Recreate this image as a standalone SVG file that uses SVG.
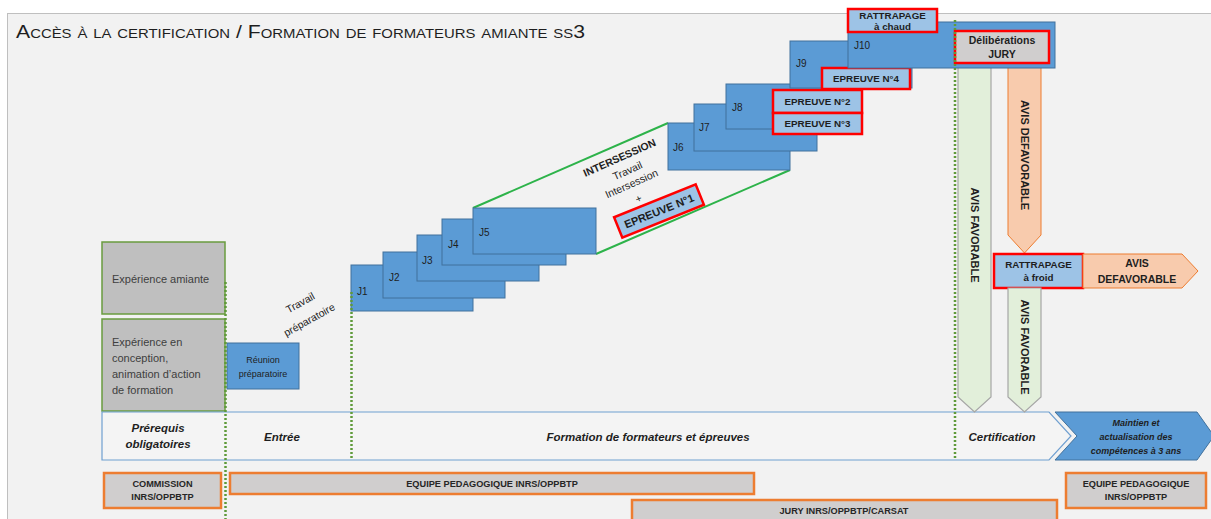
<svg xmlns="http://www.w3.org/2000/svg" width="1211" height="519" viewBox="0 0 1211 519">
<style>
text{font-family:"Liberation Sans",Arial,sans-serif;fill:#1e1e1e}
.jb{fill:#5b9bd5;stroke:#41719c;stroke-width:1}
.jl{font-size:10px}
.ep{fill:#9dc3e6;stroke:#ff0000;stroke-width:2.5}
.ept{font-size:9.8px;font-weight:bold;text-anchor:middle}
.gx{fill:#bfbfbf;stroke:#6a9c3f;stroke-width:1.5}
.gxt{font-size:11px;fill:#404040}
.ob{fill:#d0cece;stroke:#ed7d31;stroke-width:2.5}
.obt{font-size:9.2px;font-weight:bold;text-anchor:middle;fill:#262626}
.ga{fill:#e2efda;stroke:#a6a6a6;stroke-width:1.2}
.oa{fill:#f8cbad;stroke:#ed7d31;stroke-width:1}
.vt{font-size:11px;font-weight:bold;text-anchor:middle}
.bt{font-size:11.5px;font-weight:bold;font-style:italic;text-anchor:middle}
.dot{stroke:#5f9a3a;stroke-width:2.5;stroke-dasharray:2 2;fill:none}
.gl{stroke:#2db34a;stroke-width:2;fill:none}
</style>
<rect x="0" y="0" width="1211" height="519" fill="#ffffff"/>
<rect x="7.5" y="13.5" width="1215" height="515" fill="#f2f2f2" stroke="#bfbfbf" stroke-width="1"/>
<text x="16" y="38" font-size="18.5" font-variant="small-caps" textLength="569" lengthAdjust="spacingAndGlyphs" fill="#262626">Accès à la certification / Formation de formateurs amiante ss3</text>

<g id="connectors">
<line class="gl" x1="473" y1="208" x2="668" y2="123"/>
<line class="gl" x1="596" y1="254" x2="790" y2="170"/>
</g>

<g id="exp-amiante"><rect class="gx" x="102" y="242" width="123" height="72"/><text class="gxt" x="112" y="283">Expérience amiante</text></g>
<g id="exp-conception"><rect class="gx" x="102" y="319" width="123" height="92"/>
<text class="gxt" x="112" y="346">Expérience en</text><text class="gxt" x="112" y="362">conception,</text><text class="gxt" x="112" y="378">animation d’action</text><text class="gxt" x="112" y="394">de formation</text></g>

<g id="band"><path d="M102,412 L1049,412 L1071,436 L1049,460 L102,460 Z" fill="#f4f4f4" stroke="#6f9fd0" stroke-width="1.2"/>
<text class="bt" x="158" y="432">Prérequis</text><text class="bt" x="158" y="448">obligatoires</text>
<text class="bt" x="282" y="441">Entrée</text>
<text class="bt" x="648" y="441">Formation de formateurs et épreuves</text>
<text class="bt" x="1002" y="441">Certification</text></g>
<g id="maintien"><path d="M1055,412 L1197,412 L1214,436 L1197,460 L1055,460 L1077,436 Z" fill="#5b9bd5" stroke="#41719c" stroke-width="1"/>
<text class="bt" style="font-size:9px" x="1136" y="426">Maintien et</text><text class="bt" style="font-size:9px" x="1136" y="440">actualisation des</text><text class="bt" style="font-size:9px" x="1136" y="454">compétences à 3 ans</text></g>

<g id="reunion"><rect class="jb" x="227" y="343" width="72" height="46"/><text x="263" y="363" font-size="9" text-anchor="middle" fill="#1f3864">Réunion</text><text x="263" y="377" font-size="9" text-anchor="middle" fill="#1f3864">préparatoire</text></g>
<g id="travail-prep"><text x="0" y="0" font-size="10.5" text-anchor="middle" fill="#595959" transform="translate(302,306) rotate(-29)">Travail</text><text x="0" y="0" font-size="10.5" text-anchor="middle" fill="#595959" transform="translate(311,323) rotate(-29)">préparatoire</text></g>

<g id="J1"><rect class="jb" x="351" y="265" width="122" height="46"/><text class="jl" x="357" y="295">J1</text></g>
<g id="J2"><rect class="jb" x="383" y="252" width="122" height="46"/><text class="jl" x="389" y="281">J2</text></g>
<g id="J3"><rect class="jb" x="417" y="235" width="122" height="46"/><text class="jl" x="422" y="264">J3</text></g>
<g id="J4"><rect class="jb" x="442" y="219" width="124" height="46"/><text class="jl" x="448" y="248">J4</text></g>
<g id="J5"><rect class="jb" x="473" y="208" width="123" height="46"/><text class="jl" x="479" y="236">J5</text></g>

<g id="intersession">
<text x="0" y="0" font-size="10.5" font-weight="bold" text-anchor="middle" transform="translate(621,161) rotate(-24)">INTERSESSION</text>
<text x="0" y="0" font-size="10.5" text-anchor="middle" fill="#595959" transform="translate(629,174) rotate(-24)">Travail</text>
<text x="0" y="0" font-size="10.5" text-anchor="middle" fill="#595959" transform="translate(633,187) rotate(-24)">Intersession</text>
<text x="0" y="0" font-size="10.5" text-anchor="middle" fill="#595959" transform="translate(640,202) rotate(-24)">+</text>
</g>
<g id="epreuve1" transform="translate(659,211) rotate(-22)"><rect class="ep" x="-44" y="-11" width="88" height="22"/><text class="ept" style="font-size:11px" x="0" y="4">EPREUVE N°1</text></g>

<g id="J6"><rect class="jb" x="668" y="123" width="122" height="47"/><text class="jl" x="673" y="151">J6</text></g>
<g id="J7"><rect class="jb" x="694" y="104" width="123" height="47"/><text class="jl" x="699" y="131">J7</text></g>
<g id="J8"><rect class="jb" x="726" y="84" width="122" height="45"/><text class="jl" x="732" y="111">J8</text></g>
<g id="epreuve2"><rect class="ep" x="773" y="90" width="89" height="23"/><text class="ept" x="817.5" y="105">EPREUVE N°2</text></g>
<g id="epreuve3"><rect class="ep" x="773" y="113" width="89" height="21"/><text class="ept" x="817.5" y="127">EPREUVE N°3</text></g>

<g id="avis-favorable-1"><path class="ga" d="M958,60 L991,60 L991,397 L974.5,412 L958,397 Z"/><text class="vt" x="0" y="0" transform="translate(970.5,235) rotate(90)">AVIS FAVORABLE</text></g>
<g id="avis-defavorable-1"><path class="oa" d="M1008,60 L1041,60 L1041,235 L1024.5,253 L1008,235 Z"/><text class="vt" x="0" y="0" transform="translate(1020.5,155) rotate(90)">AVIS DEFAVORABLE</text></g>

<g id="J9"><rect class="jb" x="790" y="41" width="122" height="47"/><text class="jl" x="796" y="67">J9</text></g>
<g id="epreuve4"><rect class="ep" x="822" y="68" width="88" height="21"/><text class="ept" x="866" y="82">EPREUVE N°4</text></g>
<g id="J10"><rect class="jb" x="848" y="22" width="207" height="46"/><text class="jl" x="854" y="49">J10</text></g>
<g id="rattrapage-chaud"><rect class="ep" x="848" y="9" width="89" height="23"/><text class="ept" x="892.5" y="18.5">RATTRAPAGE</text><text class="ept" x="892.5" y="30">à chaud</text></g>
<g id="deliberations"><rect fill="#d0cece" stroke="#ff0000" stroke-width="2.5" x="955" y="31" width="94" height="32"/><text class="ept" style="font-size:10.5px" x="1002" y="44">Délibérations</text><text class="ept" style="font-size:10.5px" x="1002" y="58">JURY</text></g>

<g id="rattrapage-froid"><rect class="ep" x="994" y="254" width="89" height="34"/><text class="ept" x="1038.5" y="268">RATTRAPAGE</text><text class="ept" x="1038.5" y="281">à froid</text></g>
<g id="avis-defavorable-2"><path class="oa" d="M1083,254 L1182,254 L1198,271 L1182,288 L1083,288 Z"/><text class="ept" style="font-size:10.5px" x="1137" y="267">AVIS</text><text class="ept" style="font-size:10.5px" x="1137" y="283">DEFAVORABLE</text></g>
<g id="avis-favorable-2"><path class="ga" d="M1008,288 L1041,288 L1041,397 L1024.5,412 L1008,397 Z"/><text class="vt" x="0" y="0" transform="translate(1020.5,347) rotate(90)">AVIS FAVORABLE</text></g>

<g id="dotted-lines">
<line class="dot" x1="225.5" y1="282" x2="225.5" y2="519"/>
<line class="dot" x1="351.5" y1="292" x2="351.5" y2="460"/>
<line class="dot" x1="955" y1="20" x2="955" y2="460"/>
</g>

<g id="commission"><rect class="ob" x="104" y="473" width="117" height="35"/><text class="obt" x="162.5" y="487">COMMISSION</text><text class="obt" x="162.5" y="500">INRS/OPPBTP</text></g>
<g id="equipe1"><rect class="ob" x="230" y="473" width="524" height="21"/><text class="obt" x="492" y="487">EQUIPE PEDAGOGIQUE INRS/OPPBTP</text></g>
<g id="jury"><rect class="ob" x="632" y="500" width="425" height="25"/><text class="obt" x="844" y="514">JURY INRS/OPPBTP/CARSAT</text></g>
<g id="equipe2"><rect class="ob" x="1066" y="473" width="140" height="35"/><text class="obt" x="1136" y="487">EQUIPE PEDAGOGIQUE</text><text class="obt" x="1136" y="500">INRS/OPPBTP</text></g>
</svg>
